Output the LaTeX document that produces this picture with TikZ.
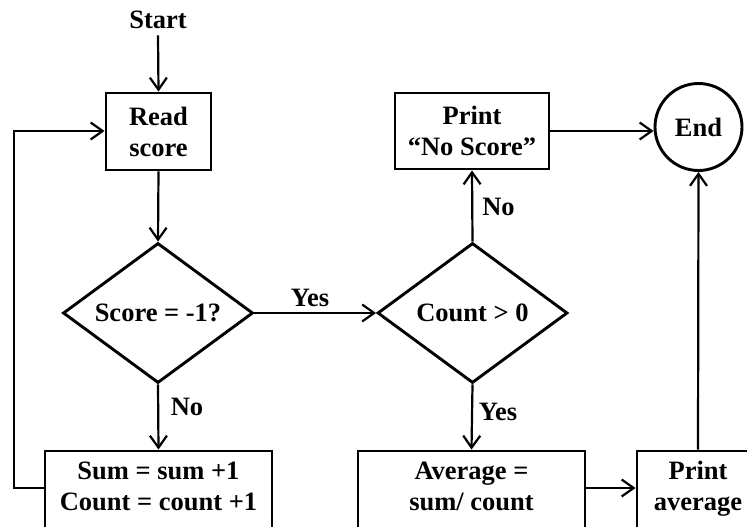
\documentclass[tikz,border=0pt]{standalone}
\usepackage{fontspec}
\setmainfont{Liberation Serif}
\usetikzlibrary{arrows.meta,shapes.geometric}
\begin{document}
\begin{tikzpicture}[x=1pt,y=-1pt,
  every node/.style={font=\fontsize{26.5}{31}\selectfont\bfseries},
  box/.style={draw, line width=2.9pt, rectangle, inner sep=0pt, align=center},
  dec/.style={draw, line width=2.9pt, diamond, aspect=1.36, minimum width=190pt, minimum height=140pt, inner sep=0pt},
  endc/.style={draw, line width=2.9pt, circle, minimum size=87pt, inner sep=0pt},
  arr/.style={line width=2.2pt, -{Straight Barb[length=12pt,width=17pt]}},
  lbl/.style={anchor=base, inner sep=0pt},
  txt/.style={anchor=base, inner sep=0pt, align=center}
]
\useasboundingbox (0,0) rectangle (747,527);
\fill[white] (0,0) rectangle (747,527);
\clip (0,0) rectangle (747,527);

\node[lbl] (start) at (158,29) {Start};
\node[box, minimum width=105pt, minimum height=77pt] (read) at (158.5,131.5) {Read\\score};
\node[dec] (d1) at (158,313) {Score = -1?};
\node[dec] (d2) at (472.5,313) {Count > 0};
\node[box, minimum width=154pt, minimum height=76pt] (noscore) at (472,131) {Print\\“No Score”};
\node[endc] (end) at (698.5,127) {End};

\node[box, minimum width=227pt, minimum height=100pt] (sumbox) at (158.5,501) {};
\node[box, minimum width=227pt, minimum height=100pt] (avgbox) at (471.5,501) {};
\node[box, minimum width=122pt, minimum height=100pt] (pavgbox) at (698,501) {};
\node[txt] (sumt) at (158.5,510) {Sum = sum +1\\Count = count +1};
\node[txt] (avgt) at (471.5,510) {Average =\\sum/ count};
\node[txt] (pavgt) at (698,510) {Print\\average};

\node[lbl] (yes1) at (310,306) {Yes};
\node[lbl] (no1) at (187,415) {No};
\node[lbl] (no2) at (498.5,215) {No};
\node[lbl] (yes2) at (498,420) {Yes};

\coordinate (loopa) at (14,488);
\coordinate (loopb) at (14,131);

\draw[arr] (start.south) ++(0,6) -- (read.north);
\draw[arr] (read.south) -- (d1.north);
\draw[arr] (d1.south) -- (sumbox.north);
\draw[arr] (sumbox.west |- loopa) -- (loopa) -- (loopb) -- (read.west |- loopb);
\draw[arr] (d1.east) -- (d2.west);
\draw[arr] (d2.north) -- (noscore.south);
\draw[arr] (d2.south) -- (avgbox.north);
\draw[arr] (noscore.east) -- (noscore.east -| end.west);
\draw[arr] (avgbox.east |- loopa) -- (pavgbox.west |- loopa);
\draw[arr] (pavgbox.north) -- (end.south);
\end{tikzpicture}
\end{document}
